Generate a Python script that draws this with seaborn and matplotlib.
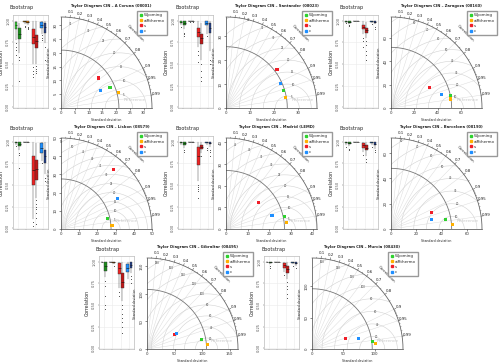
import numpy as np
import pandas as pd
import seaborn as sns
import matplotlib.pyplot as plt
from matplotlib.lines import Line2D

W, H = 500, 363

# stations and panel placement (pixels, top-left of each panel)
stations = ["A Coruna (08001)", "Santander (08023)", "Zaragoza (08160)",
            "Lisbon (08579)", "Madrid (LEMD)", "Barcelona (08190)",
            "Gibraltar (08495)", "Murcia (08430)"]
panel_x = [0, 165, 330, 0, 165, 330, 86, 251]
panel_y = [0, 0, 0, 121, 121, 121, 241, 241]

# taylor diagram scales
sd_max = [33, 38, 78, 50, 42, 72, 165, 145]
sd_ref = [21, 25.6, 52, 27.5, 27, 48, 108, 96]
tick_step = [5, 10, 20, 10, 10, 20, 50, 50]
rms_step = [5, 5, 10, 5, 5, 10, 20, 20]

models = ["Wyoming", "aiRthermo", "s", "c"]
model_colors = ["#2fd12f", "#ffb000", "#f01e28", "#1f8fff"]

# standard deviation / correlation of each model per station
sd_wyo = [19.3, 25.0, 51.8, 26.3, 27.7, 43.7, 100.2, 97.3]
cor_wyo = [0.92, 0.955, 0.98, 0.974, 0.977, 0.984, 0.985, 0.993]
sd_air = [21.6, 25.2, 51.9, 28.1, 28.0, 48.6, 110.0, 101.4]
cor_air = [0.966, 0.986, 0.989, 0.998, 0.995, 0.997, 0.9975, 0.9966]
sd_s = [17.4, 26.6, 37.6, 43.6, 19.4, 34.9, 56.3, 56.0]
cor_s = [0.78, 0.80, 0.88, 0.66, 0.77, 0.926, 0.88, 0.953]
sd_c = [15.6, 25.1, 45.1, 35.2, 22.1, 32.9, 60.0, 76.6]
cor_c = [0.91, 0.91, 0.965, 0.877, 0.96, 0.976, 0.88, 0.975]

corr_labels = [0.1, 0.2, 0.3, 0.4, 0.5, 0.6, 0.7, 0.8, 0.9, 0.95, 0.99]

# bootstrap boxes: [q1, median, q3, whisker low, whisker high], 2 per model
box_colors = ["#33cc33", "#1e8c1e", "#ffa500", "#e07800",
              "#ee2222", "#c01818", "#1e90ff", "#1f3c88"]
box_coruna = [[0.90, 0.95, 0.98, 0.78, 1.0], [0.79, 0.85, 0.91, 0.62, 0.97],
              [0.985, 0.993, 1.0, 0.96, 1.0], [0.975, 0.985, 0.99, 0.95, 1.0],
              [0.735, 0.81, 0.90, 0.50, 1.0], [0.68, 0.76, 0.83, 0.50, 0.99],
              [0.92, 0.95, 0.98, 0.85, 1.0], [0.86, 0.93, 0.975, 0.74, 1.0]]
fl_coruna = [[0.74, 0.70, 0.66, 0.60], [0.58, 0.55, 0.30], [0.94, 0.93], [0.93, 0.92, 0.90],
             [0.46, 0.42, 0.38, 0.35], [0.47, 0.44, 0.42, 0.40], [0.83, 0.80, 0.78], [0.70, 0.55]]
box_santander = [[0.97, 0.98, 0.99, 0.95, 1.0], [0.95, 0.97, 0.99, 0.90, 1.0],
                 [0.995, 0.997, 0.999, 0.99, 1.0], [0.99, 0.995, 0.998, 0.985, 1.0],
                 [0.81, 0.87, 0.91, 0.70, 0.99], [0.73, 0.80, 0.85, 0.55, 0.97],
                 [0.95, 0.97, 0.99, 0.85, 1.0], [0.86, 0.92, 0.97, 0.65, 1.0]]
fl_santander = [[0.93], [0.86, 0.84, 0.82], [0.985], [0.98],
                [0.65, 0.60, 0.52], [0.50, 0.42, 0.35, 0.30], [0.82], [0.55, 0.50]]
box_zaragoza = [[0.985, 0.99, 0.995, 0.975, 1.0], [0.975, 0.985, 0.99, 0.96, 1.0],
                [0.996, 0.998, 0.999, 0.993, 1.0], [0.994, 0.997, 0.999, 0.99, 1.0],
                [0.90, 0.93, 0.95, 0.85, 0.99], [0.86, 0.89, 0.92, 0.80, 0.98],
                [0.985, 0.99, 0.995, 0.97, 1.0], [0.975, 0.985, 0.99, 0.96, 1.0]]
fl_zaragoza = [[0.97], [0.95, 0.94], [], [],
               [0.80, 0.76, 0.70], [0.76, 0.72, 0.65, 0.60, 0.55], [0.96], [0.93, 0.90]]
box_lisbon = [[0.98, 0.99, 1.0, 0.96, 1.0], [0.95, 0.97, 0.99, 0.90, 1.0],
              [0.995, 0.998, 1.0, 0.99, 1.0], [0.99, 0.995, 0.999, 0.98, 1.0],
              [0.50, 0.67, 0.83, 0.10, 1.0], [0.56, 0.68, 0.79, 0.35, 0.98],
              [0.87, 0.93, 0.98, 0.78, 1.0], [0.75, 0.83, 0.90, 0.62, 0.99]]
fl_lisbon = [[0.95], [0.87, 0.85, 0.70], [], [],
             [0.07, 0.03], [0.32, 0.28, 0.25, 0.22, 0.18, 0.12, 0.05], [0.75], [0.58, 0.55]]
box_madrid = [[0.98, 0.99, 1.0, 0.96, 1.0], [0.96, 0.98, 0.99, 0.93, 1.0],
              [0.995, 0.998, 1.0, 0.99, 1.0], [0.99, 0.995, 0.999, 0.985, 1.0],
              [0.73, 0.83, 0.94, 0.55, 1.0], [0.92, 0.94, 0.96, 0.87, 1.0],
              [0.98, 0.99, 1.0, 0.96, 1.0], [0.97, 0.985, 0.995, 0.94, 1.0]]
fl_madrid = [[], [0.90, 0.88], [], [],
             [0.50, 0.47, 0.45, 0.43, 0.35], [0.83], [0.93, 0.90], [0.90, 0.88, 0.83]]
box_barcelona = [[0.98, 0.99, 1.0, 0.96, 1.0], [0.975, 0.985, 0.995, 0.95, 1.0],
                 [0.995, 0.998, 1.0, 0.99, 1.0], [0.993, 0.997, 0.999, 0.99, 1.0],
                 [0.93, 0.96, 0.98, 0.88, 1.0], [0.90, 0.93, 0.96, 0.83, 0.99],
                 [0.98, 0.99, 1.0, 0.96, 1.0], [0.96, 0.975, 0.99, 0.92, 1.0]]
fl_barcelona = [[0.94], [0.92, 0.90], [], [],
                [0.85], [0.80, 0.77], [0.94], [0.90, 0.88]]
box_gibraltar = [[0.995, 0.998, 1.0, 0.99, 1.0], [0.89, 0.95, 0.99, 0.82, 1.0],
                 [0.995, 0.998, 1.0, 0.99, 1.0], [0.985, 0.993, 0.999, 0.97, 1.0],
                 [0.86, 0.93, 0.98, 0.70, 1.0], [0.69, 0.76, 0.87, 0.55, 0.99],
                 [0.88, 0.93, 0.97, 0.80, 1.0], [0.93, 0.96, 0.99, 0.87, 1.0]]
fl_gibraltar = [[], [0.78, 0.72, 0.60, 0.50, 0.45], [], [0.95],
                [0.65, 0.60], [0.50, 0.45, 0.40, 0.35, 0.30, 0.25, 0.18], [], [0.83, 0.80, 0.75]]
box_murcia = [[0.995, 0.998, 1.0, 0.99, 1.0], [0.985, 0.993, 0.999, 0.97, 1.0],
              [0.997, 0.999, 1.0, 0.995, 1.0], [0.993, 0.997, 1.0, 0.99, 1.0],
              [0.93, 0.96, 0.985, 0.88, 1.0], [0.87, 0.91, 0.95, 0.80, 0.99],
              [0.985, 0.993, 1.0, 0.97, 1.0], [0.975, 0.985, 0.995, 0.95, 1.0]]
fl_murcia = [[], [0.95, 0.93], [], [],
             [0.85], [0.76, 0.72, 0.68, 0.62, 0.58], [0.95], [0.93]]

boxes = [box_coruna, box_santander, box_zaragoza, box_lisbon,
         box_madrid, box_barcelona, box_gibraltar, box_murcia]
fliers = [fl_coruna, fl_santander, fl_zaragoza, fl_lisbon,
          fl_madrid, fl_barcelona, fl_gibraltar, fl_murcia]

sns.set_theme(style="whitegrid")
plt.rcParams['font.family'] = ['DejaVu Sans']

fig = plt.figure(figsize=(W / 100, H / 100), dpi=100)


def rect(x, y, w, h):
    # pixel box (top-left origin) -> figure fraction
    return [x / W, 1 - (y + h) / H, w / W, h / H]


def draw_boot(i, x0, y0):
    ax = fig.add_axes(rect(x0 + 13, y0 + 15, 35, 93))
    stats = []
    for k, (q1, med, q3, lo, hi) in enumerate(boxes[i]):
        stats.append(dict(q1=q1, med=med, q3=q3, whislo=lo, whishi=hi, fliers=fliers[i][k]))
    pos = [g + off for g in range(1, 5) for off in (-0.19, 0.19)]
    art = ax.bxp(stats, positions=pos, widths=0.32, patch_artist=True, showcaps=False,
                 boxprops=dict(linewidth=0.3, edgecolor='#333333'),
                 medianprops=dict(color='#111111', linewidth=0.4),
                 whiskerprops=dict(color='#333333', linewidth=0.3),
                 flierprops=dict(marker='o', markersize=0.7, markerfacecolor='#222222',
                                 markeredgecolor='none'))
    for patch, col in zip(art['boxes'], box_colors):
        patch.set_facecolor(col)
    ax.set_facecolor('white')
    ax.set_xlim(0.45, 4.55)
    ax.set_ylim(-0.01, 1.065)
    ax.set_xticks([1, 2, 3, 4])
    ax.set_xticklabels([])
    ax.set_yticks([0, 0.25, 0.5, 0.75, 1.0])
    ax.set_yticklabels(['0.00', '0.25', '0.50', '0.75', '1.00'], rotation=90, va='center')
    ax.tick_params(labelsize=2.6, length=1.0, width=0.3, pad=1, colors='#555555',
                   bottom=True, left=True)
    ax.grid(True, color='#ebebeb', lw=0.4)
    for s in ax.spines.values():
        s.set_color('#bbbbbb')
        s.set_linewidth(0.5)
    ax.set_ylabel('Correlation', fontsize=3.4, labelpad=1.5)
    fig.text((x0 + 10) / W, 1 - (y0 + 8) / H, 'Bootstrap', fontsize=3.5,
             ha='left', va='center')


def draw_taylor(i, x0, y0):
    ax = fig.add_axes(rect(x0 + 61, y0 + 17, 91, 91))
    R = sd_max[i]
    ref = sd_ref[i]
    ax.set_facecolor('none')
    ax.grid(False)
    ax.set_xlim(0, R)
    ax.set_ylim(0, R)
    for s in ('top', 'right'):
        ax.spines[s].set_visible(False)
    for s in ('left', 'bottom'):
        ax.spines[s].set_color('#444444')
        ax.spines[s].set_linewidth(0.5)
    ticks = np.arange(0, R + 1e-9, tick_step[i])
    ax.set_xticks(ticks)
    ax.set_yticks(ticks)
    ax.set_xticklabels([f"{t:g}" for t in ticks])
    ax.set_yticklabels([f"{t:g}" for t in ticks], rotation=90, va='center')
    ax.tick_params(labelsize=2.8, length=1.2, width=0.4, pad=1, colors='#333333',
                   bottom=True, left=True)

    # radial correlation lines, arc ticks and labels
    for c in corr_labels:
        a = np.arccos(c)
        ax.plot([0, R * np.cos(a)], [0, R * np.sin(a)], color='#dcdcdc', lw=0.35, zorder=1)
        ax.plot([R * np.cos(a), 1.025 * R * np.cos(a)], [R * np.sin(a), 1.025 * R * np.sin(a)],
                color='#555555', lw=0.4, clip_on=False)
        ax.text(1.055 * R * np.cos(a), 1.055 * R * np.sin(a), f"{c:g}", fontsize=2.9,
                ha='center', va='center', color='#222222')
    for c in np.r_[np.arange(0.05, 0.9, 0.1), np.arange(0.91, 0.99, 0.01)]:
        a = np.arccos(c)
        ax.plot([R * np.cos(a), 1.012 * R * np.cos(a)], [R * np.sin(a), 1.012 * R * np.sin(a)],
                color='#555555', lw=0.3, clip_on=False)
    ax.text(1.16 * R * np.cos(np.radians(45)), 1.16 * R * np.sin(np.radians(45)),
            'Correlation', fontsize=3.0, rotation=-45, ha='center', va='center',
            color='#333333')

    # centred RMS arcs around the reference
    far = np.hypot(ref, R)
    n_arcs = int(far // rms_step[i])
    label_ang = np.radians(np.linspace(70, 120, max(n_arcs, 2)))
    t = np.linspace(0, np.pi, 500)
    for k in range(1, n_arcs + 1):
        r = k * rms_step[i]
        xs = ref + r * np.cos(t)
        ys = r * np.sin(t)
        inside = (np.hypot(xs, ys) <= R) & (xs >= 0)
        if not inside.any():
            continue
        ax.plot(np.where(inside, xs, np.nan), ys, color='#d2d2d2', lw=0.4, zorder=1)
        lx = ref + r * np.cos(label_ang[k - 1])
        ly = r * np.sin(label_ang[k - 1])
        if np.hypot(lx, ly) < R and lx > 0:
            ax.text(lx, ly, f"{r:g}", fontsize=1.9, color='#444444', ha='center',
                    va='center', zorder=2)

    th = np.linspace(0, np.pi / 2, 200)
    ax.plot(R * np.cos(th), R * np.sin(th), color='#666666', lw=0.6, clip_on=False)
    ax.plot(ref * np.cos(th), ref * np.sin(th), color='#777777', lw=0.6)
    ax.text(ref + 0.05 * R, 0.085 * R, 'Reference', fontsize=3.2, color='#c8c8c8',
            ha='left', va='center')

    df = pd.DataFrame({'model': models,
                       'sd': [sd_wyo[i], sd_air[i], sd_s[i], sd_c[i]],
                       'cor': [cor_wyo[i], cor_air[i], cor_s[i], cor_c[i]]})
    df['x'] = df['sd'] * df['cor']
    df['y'] = df['sd'] * np.sqrt(1 - df['cor'] ** 2)
    sns.scatterplot(data=df, x='x', y='y', hue='model', palette=dict(zip(models, model_colors)),
                    marker='s', s=5, linewidth=0, legend=False, ax=ax, zorder=5, clip_on=False)
    ax.set_xlabel('Standard deviation', fontsize=2.3, labelpad=2)
    ax.set_ylabel('Standard deviation', fontsize=2.3, labelpad=2)

    fig.text((x0 + 111) / W, 1 - (y0 + 6) / H, 'Taylor Diagram CIN – ' + stations[i],
             fontsize=2.7, fontweight='bold', ha='center', va='center')

    handles = [Line2D([], [], marker='s', ls='', color=c, markersize=1.8, label=m)
               for m, c in zip(models, model_colors)]
    ax.legend(handles=handles, loc='upper left',
              bbox_to_anchor=((x0 + 137) / W, 1 - (y0 + 11) / H),
              bbox_transform=fig.transFigure, fontsize=2.9, frameon=True, fancybox=False,
              edgecolor='#999999', framealpha=1, handlelength=0.6, handletextpad=0.4,
              borderpad=0.6, labelspacing=0.3, borderaxespad=0)


for i in range(len(stations)):
    draw_boot(i, panel_x[i], panel_y[i])
    draw_taylor(i, panel_x[i], panel_y[i])

fig.savefig('out.png', dpi=100)
